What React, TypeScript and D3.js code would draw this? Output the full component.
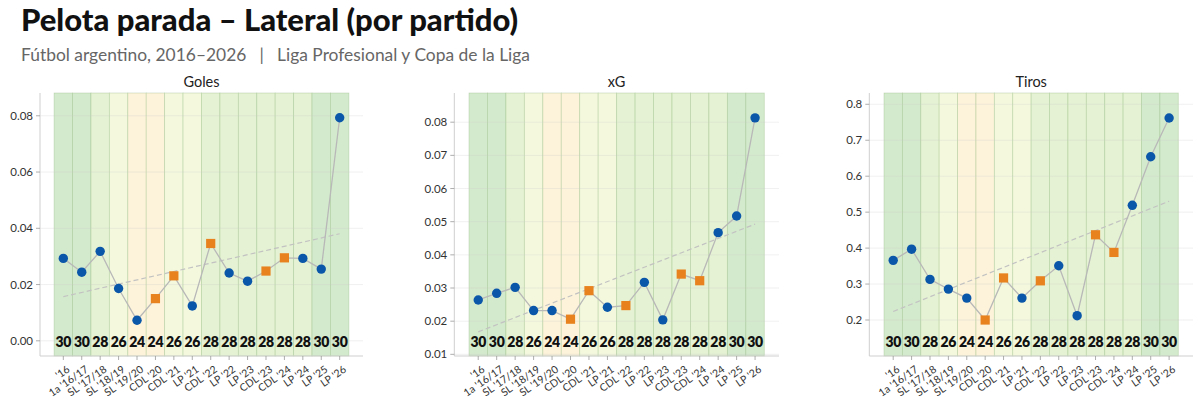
import React from "react";
import * as d3 from "d3";

const seasons = ["'16", "1a '16/17", "SL '17/18", "SL '18/19", "SL '19/20", "CDL '20", "CDL '21", "LP '21", "CDL '22", "LP '22", "LP '23", "CDL '23", "CDL '24", "LP '24", "LP '25", "LP '26"];
const teams = [30, 30, 28, 26, 24, 24, 26, 26, 28, 28, 28, 28, 28, 28, 30, 30];
const isCopa = [false, false, false, false, false, true, true, false, true, false, false, true, true, false, false, false];

const goles = [0.0293, 0.0244, 0.0318, 0.0186, 0.0073, 0.0150, 0.0231, 0.0124, 0.0346, 0.0241, 0.0212, 0.0248, 0.0295, 0.0293, 0.0255, 0.0793];
const xg = [0.0264, 0.0284, 0.0302, 0.0232, 0.0232, 0.0206, 0.0292, 0.0242, 0.0247, 0.0317, 0.0204, 0.0342, 0.0322, 0.0467, 0.0517, 0.0813];
const tiros = [0.366, 0.397, 0.313, 0.286, 0.261, 0.200, 0.317, 0.261, 0.309, 0.351, 0.212, 0.437, 0.388, 0.519, 0.654, 0.762];

const golesTicks = [0, 0.02, 0.04, 0.06, 0.08];
const xgTicks = [0.01, 0.02, 0.03, 0.04, 0.05, 0.06, 0.07, 0.08];
const tirosTicks = [0.2, 0.3, 0.4, 0.5, 0.6, 0.7, 0.8];

const bandColor: Record<number, string> = { 30: "#d4eacd", 28: "#e5f2d3", 26: "#f4f9de", 24: "#fdf3da" };

const FONT = "Lato, 'Open Sans', sans-serif";

type PanelProps = {
  title: string;
  values: number[];
  ticks: number[];
  fmt: string;
  domain: [number, number];
  left: number;
  right: number;
  bandL: number;
  bandR: number;
};

function regression(vals: number[]) {
  const n = vals.length;
  const xs = vals.map((_, i) => i);
  const mx = d3.mean(xs) as number;
  const my = d3.mean(vals) as number;
  let num = 0, den = 0;
  xs.forEach((x, i) => { num += (x - mx) * (vals[i] - my); den += (x - mx) * (x - mx); });
  const slope = num / den;
  const b = my - slope * mx;
  return [b, b + slope * (n - 1)];
}

function Panel({ title, values, ticks, fmt, domain, left, right, bandL, bandR }: PanelProps) {
  const top = 93, bottom = 356;
  const x = d3.scaleBand<string>().domain(seasons).range([bandL, bandR]).padding(0);
  const bw = x.bandwidth();
  const cx = (i: number) => (x(seasons[i]) as number) + bw / 2;
  const y = d3.scaleLinear().domain(domain).range([bottom, top]);
  const f = d3.format(fmt);
  const line = d3.line<number>().x((_, i) => cx(i)).y((v) => y(v));
  const [t0, t1] = regression(values);
  return (
    <g>
      <text x={(left + right) / 2} y={87} textAnchor="middle" fontSize={14.5} fontFamily={FONT} fill="#222">{title}</text>
      {seasons.map((s, i) => (
        <rect key={s} x={x(s)} y={top} width={bw} height={bottom - top} fill={bandColor[teams[i]]} stroke="rgba(130,175,110,0.35)" strokeWidth={0.8} />
      ))}
      {ticks.map((t) => (
        <line key={"g" + t} x1={left} x2={right} y1={y(t)} y2={y(t)} stroke="rgba(200,200,200,0.35)" strokeWidth={0.8} />
      ))}
      <line x1={left} x2={left} y1={top} y2={bottom} stroke="#cfcfcf" strokeWidth={1} />
      <line x1={left} x2={right} y1={bottom} y2={bottom} stroke="#cfcfcf" strokeWidth={1} />
      {ticks.map((t) => (
        <g key={"t" + t}>
          <line x1={left - 4} x2={left} y1={y(t)} y2={y(t)} stroke="#999" strokeWidth={0.8} />
          <text x={left - 7} y={y(t)} dy="0.35em" textAnchor="end" fontSize={11.5} fontFamily={FONT} fill="#333">{f(t)}</text>
        </g>
      ))}
      {seasons.map((s, i) => (
        <g key={"x" + s}>
          <line x1={cx(i)} x2={cx(i)} y1={bottom} y2={bottom + 4} stroke="#999" strokeWidth={0.8} />
          <text transform={`translate(${cx(i) + 3},${bottom + 9}) rotate(-35)`} textAnchor="end" dy="0.7em" fontSize={10.5} fontFamily={FONT} fill="#333">{s}</text>
          <text x={cx(i)} y={347} textAnchor="middle" fontSize={14} fontWeight={800} fontFamily={FONT} fill="#111" letterSpacing={-0.3}>{teams[i]}</text>
        </g>
      ))}
      <line x1={cx(0)} x2={cx(values.length - 1)} y1={y(t0)} y2={y(t1)} stroke="#c2c2c2" strokeWidth={1.2} strokeDasharray="5,3" />
      <path d={line(values) as string} fill="none" stroke="#b8b8b8" strokeWidth={1.3} />
      {values.map((v, i) =>
        isCopa[i] ? (
          <rect key={"m" + i} x={cx(i) - 4.6} y={y(v) - 4.6} width={9.2} height={9.2} fill="#e8821e" />
        ) : (
          <circle key={"m" + i} cx={cx(i)} cy={y(v)} r={4.7} fill="#0a56a9" />
        )
      )}
    </g>
  );
}

export default function App() {
  return (
    <svg width={1200} height={405} style={{ position: "absolute", left: 0, top: 0, background: "#fff" }}>
      <rect width={1200} height={405} fill="#fff" />
      <text x={21} y={31} fontSize={31} fontWeight={900} fontFamily={FONT} fill="#111" textLength={497} lengthAdjust="spacingAndGlyphs">Pelota parada – Lateral (por partido)</text>
      <text x={21} y={61} fontSize={18} fontFamily={FONT} fill="#666" textLength={509} lengthAdjust="spacingAndGlyphs">{"Fútbol argentino, 2016–2026\u2002 |\u2002 Liga Profesional y Copa de la Liga"}</text>
      <Panel title="Goles" values={goles} ticks={golesTicks} fmt=".2f" domain={[-0.0054, 0.0881]} left={40} right={363} bandL={54.1} bandR={348.9} />
      <Panel title="xG" values={xg} ticks={xgTicks} fmt=".2f" domain={[0.0095, 0.0888]} left={454.3} right={779} bandL={469} bandR={764.3} />
      <Panel title="Tiros" values={tiros} ticks={tirosTicks} fmt=".1f" domain={[0.0999, 0.8314]} left={869.3} right={1193} bandL={884} bandR={1178.3} />
    </svg>
  );
}
